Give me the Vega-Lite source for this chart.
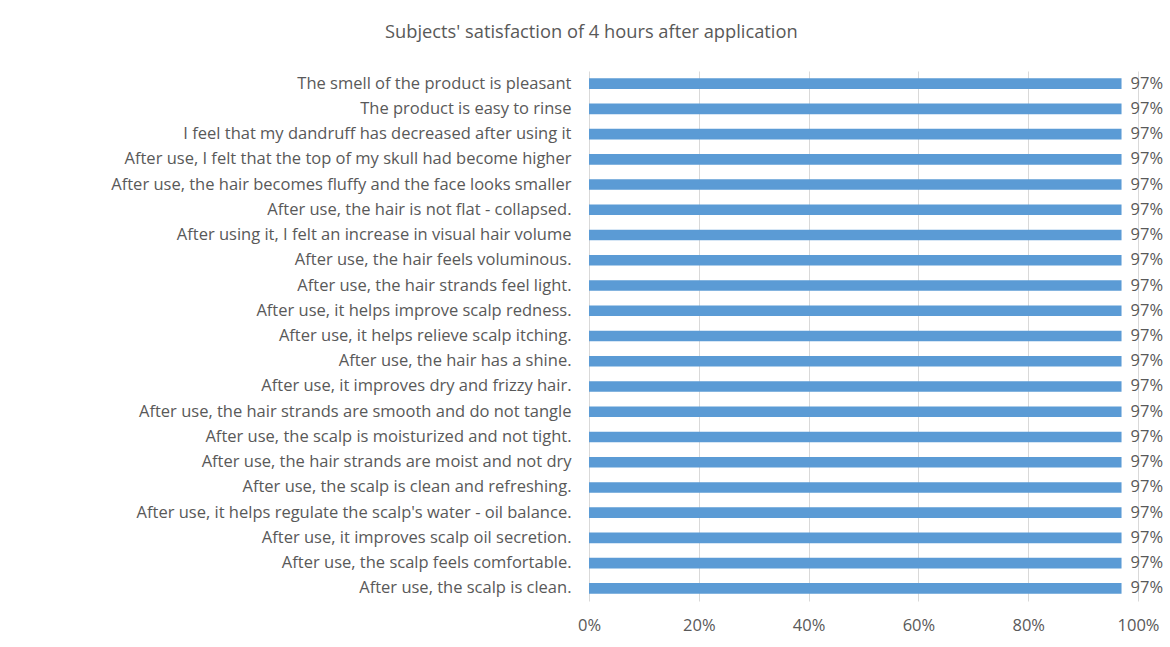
{
  "$schema": "https://vega.github.io/schema/vega-lite/v6.json",
  "autosize": "none",
  "width": 549,
  "height": 530,
  "padding": {"left": 589, "top": 71, "right": 32, "bottom": 46},
  "background": "white",
  "title": {
    "text": "Subjects' satisfaction of 4 hours after application",
    "font": "Open Sans",
    "fontSize": 18.3,
    "fontWeight": "normal",
    "color": "#595959",
    "anchor": "start",
    "frame": "group",
    "dx": -204,
    "offset": 29
  },
  "data": {
    "values": [
      {"item": "The smell of the product is pleasant", "value": 0.97},
      {"item": "The product is easy to rinse", "value": 0.97},
      {"item": "I feel that my dandruff has decreased after using it", "value": 0.97},
      {"item": "After use, I felt that the top of my skull had become higher", "value": 0.97},
      {"item": "After use, the hair becomes fluffy and the face looks smaller", "value": 0.97},
      {"item": "After use, the hair is not flat - collapsed.", "value": 0.97},
      {"item": "After using it, I felt an increase in visual hair volume", "value": 0.97},
      {"item": "After use, the hair feels voluminous.", "value": 0.97},
      {"item": "After use, the hair strands feel light.", "value": 0.97},
      {"item": "After use, it helps improve scalp redness.", "value": 0.97},
      {"item": "After use, it helps relieve scalp itching.", "value": 0.97},
      {"item": "After use, the hair has a shine.", "value": 0.97},
      {"item": "After use, it improves dry and frizzy hair.", "value": 0.97},
      {"item": "After use, the hair strands are smooth and do not tangle", "value": 0.97},
      {"item": "After use, the scalp is moisturized and not tight.", "value": 0.97},
      {"item": "After use, the hair strands are moist and not dry", "value": 0.97},
      {"item": "After use, the scalp is clean and refreshing.", "value": 0.97},
      {"item": "After use, it helps regulate the scalp's water - oil balance.", "value": 0.97},
      {"item": "After use, it improves scalp oil secretion.", "value": 0.97},
      {"item": "After use, the scalp feels comfortable.", "value": 0.97},
      {"item": "After use, the scalp is clean.", "value": 0.97}
    ]
  },
  "encoding": {
    "y": {
      "field": "item",
      "type": "nominal",
      "sort": null,
      "title": null,
      "scale": {"paddingInner": 0.58, "paddingOuter": 0.29},
      "axis": {
        "domain": false,
        "ticks": false,
        "grid": false,
        "labelPadding": 18,
        "labelFont": "Open Sans",
        "labelFontSize": 16.5,
        "labelColor": "#595959",
        "labelLimit": 600
      }
    },
    "x": {
      "field": "value",
      "type": "quantitative",
      "title": null,
      "scale": {"domain": [0, 1]},
      "axis": {
        "format": ".0%",
        "values": [0, 0.2, 0.4, 0.6, 0.8, 1],
        "labelOverlap": false,
        "labelFlush": false,
        "domain": false,
        "ticks": false,
        "grid": true,
        "gridColor": "#D9D9D9",
        "labelPadding": 16,
        "labelFont": "Open Sans",
        "labelFontSize": 16.5,
        "labelColor": "#595959"
      }
    }
  },
  "layer": [
    {"mark": {"type": "bar", "color": "#5B9BD5"}},
    {
      "mark": {"type": "text", "align": "left", "dx": 9, "font": "Open Sans", "fontSize": 16.5, "color": "#595959"},
      "encoding": {"text": {"field": "value", "format": ".0%"}}
    }
  ],
  "config": {"view": {"stroke": null}}
}
